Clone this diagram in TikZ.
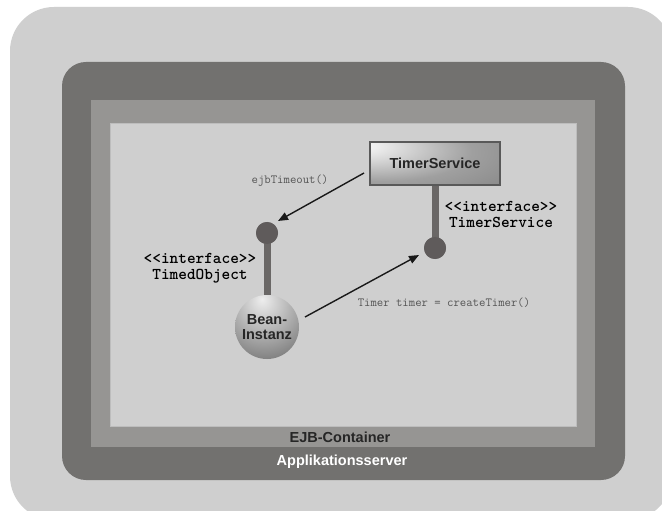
\documentclass[tikz,border=0pt]{standalone}
\usepackage{fontspec}
\setmainfont{Liberation Sans}
\usetikzlibrary{arrows.meta,calc,shadings}

\definecolor{bglight}{HTML}{CFCFCF}
\definecolor{serverdark}{HTML}{72716F}
\definecolor{containermid}{HTML}{969593}
\definecolor{innerline}{HTML}{BDBDBD}
\definecolor{portgray}{HTML}{5F5B5B}
\definecolor{stemgray}{HTML}{6A6766}
\definecolor{labelgray}{HTML}{555555}
\definecolor{ballA}{HTML}{EEEEEE}
\definecolor{ballB}{HTML}{D2D2D2}
\definecolor{ballC}{HTML}{A6A6A6}
\definecolor{ballD}{HTML}{727272}
\definecolor{ballE}{HTML}{4A4A4A}

% box shading with a bright spot towards the upper left
\pgfdeclareradialshading{servicebox}{\pgfpoint{-32bp}{22bp}}{%
  color(0bp)=(white);
  color(10bp)=(white!80!gray);
  color(35bp)=(gray!75);
  color(70bp)=(gray!95!black);
  color(100bp)=(gray!90!black)}

% sphere shading, lit from above
\pgfdeclareradialshading{beanball}{\pgfpoint{-4bp}{22bp}}{%
  color(0bp)=(ballA);
  color(10bp)=(ballB);
  color(26bp)=(ballC);
  color(44bp)=(ballD);
  color(60bp)=(ballE);
  color(100bp)=(ballE)}

\tikzset{
  sanslabel/.style={font=\fontsize{14.5bp}{15bp}\selectfont\bfseries, inner sep=0pt},
  monobold/.style={font=\ttfamily\fontsize{16.5bp}{16bp}\selectfont\bfseries, inner sep=0pt, align=center},
  monocall/.style={font=\ttfamily\fontsize{12.4bp}{12bp}\selectfont, text=labelgray, inner sep=0pt},
  port/.style={circle, fill=portgray, minimum size=22bp, inner sep=0pt},
  stem/.style={draw=stemgray, line width=7bp},
  callarrow/.style={draw=black!90, line width=1.4bp, -{Triangle[length=10bp,width=8bp]}},
}

\begin{document}
\begin{tikzpicture}[x=1bp,y=-1bp]
  \useasboundingbox (0,0) rectangle (662,511);
  \fill[white] (0,0) rectangle (662,511);
  \clip (0,0) rectangle (662,511);

  % application server and EJB container frames
  \fill[bglight, rounded corners=44bp] (10,7) rectangle (672,520);
  \fill[serverdark, rounded corners=24bp] (62,62) rectangle (625,480);
  \fill[containermid] (91,100) rectangle (595,447);
  \filldraw[fill=bglight, draw=innerline, line width=1bp] (110.5,124) rectangle (576,426);

  \node[sanslabel, text=black!85] (ejb) at (340,437) {EJB-Container};
  \node[sanslabel, text=white] (appsrv) at (342,462) {Applikationsserver};

  % TimerService with its interface port
  \node[draw=black!65, line width=1.2bp, shading=servicebox,
        minimum width=130bp, minimum height=43bp, inner sep=0pt,
        sanslabel, text=black!85] (box) at (435,163.5) {TimerService};
  \node[port] (tsport) at (435,248) {};
  \draw[stem] (box.south) -- (tsport.center);
  \node[port] (tsport2) at (435,248) {};
  \node[monobold] (tslabel) at (501,215) {<<interface>>\\TimerService};

  % bean instance with the TimedObject port
  \node[port] (toport) at (267,233) {};
  \node[circle, minimum size=64bp, inner sep=0pt] (bean) at (267,327) {};
  \draw[stem] (toport.center) -- (bean.center);
  \node[port] at (toport) {};
  \shade[shading=beanball] (bean.center) circle (32bp);
  \node[sanslabel, align=center, text=black!85, font=\fontsize{14.5bp}{15bp}\selectfont\bfseries]
    (beantext) at (bean.center) {Bean-\\Instanz};
  \node[monobold] (tolabel) at (200,268) {<<interface>>\\TimedObject};

  % calls between the bean and the service
  \draw[callarrow] ($(box.center)+(-71,9.5)$) -- ($(toport.center)+(11,-12)$);
  \node[monocall] (timeoutlbl) at (290,181) {ejbTimeout()};
  \draw[callarrow] ($(bean.center)+(38,-10)$) -- ($(tsport.center)+(-16,7)$);
  \node[monocall] (createlbl) at (444,303) {Timer timer = createTimer()};
\end{tikzpicture}
\end{document}
